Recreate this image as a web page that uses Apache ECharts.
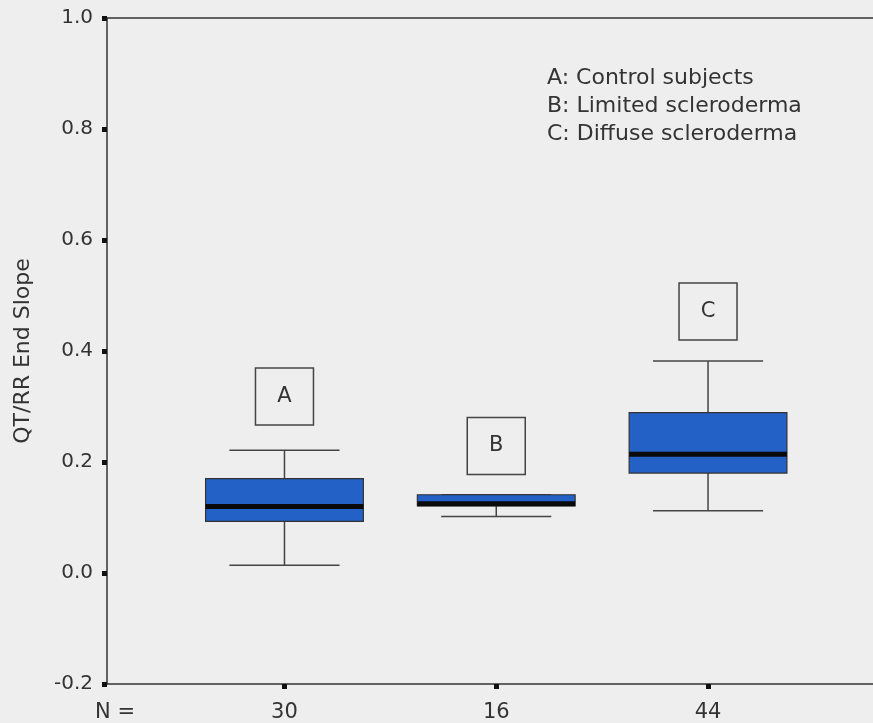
<!DOCTYPE html>
<html>
<head>
<meta charset="utf-8">
<script src="https://cdn.jsdelivr.net/npm/echarts@6/dist/echarts.min.js"></script>
<style>
html,body{margin:0;padding:0;background:#eeeeee;}
#chart{width:873px;height:723px;}
</style>
</head>
<body>
<div id="chart"></div>
<script>
// Group positions and counts
var groupX = [1, 2, 3];
var groupLetters = ['A', 'B', 'C'];
var groupN = ['30', '16', '44'];
// Box statistics: [min, Q1, median, Q3, max]
var boxA = [0.014, 0.093, 0.120, 0.170, 0.221];
var boxB = [0.102, 0.121, 0.125, 0.141, 0.141];
var boxC = [0.112, 0.180, 0.214, 0.289, 0.382];
// Label box centres (value units)
var labelY = [0.318, 0.229, 0.471];
// Legend text
var legendLines = ['A: Control subjects', 'B: Limited scleroderma', 'C: Diffuse scleroderma'];
// Axis ticks
var yTicks = [-0.2, 0.0, 0.2, 0.4, 0.6, 0.8, 1.0];
var xLabelValues = [0.2, 1, 2, 3];
var xLabelTexts = ['N =', groupN[0], groupN[1], groupN[2]];

var FONT = 'DejaVu Sans';
var TXT = '#333';

var boxes = [boxA, boxB, boxC];
var boxData = boxes.map(function (b, i) { return [groupX[i]].concat(b); });
var labelData = groupLetters.map(function (l, i) { return [groupX[i], labelY[i], l]; });

var chart = echarts.init(document.getElementById('chart'));

function renderBox(params, api) {
  var x = api.value(0);
  var pMin = api.coord([x, api.value(1)]);
  var pQ1 = api.coord([x, api.value(2)]);
  var pMed = api.coord([x, api.value(3)]);
  var pQ3 = api.coord([x, api.value(4)]);
  var pMax = api.coord([x, api.value(5)]);
  var bw = api.size([0.745, 0])[0];
  var cw = api.size([0.52, 0])[0];
  var cx = pMed[0];
  var ls = { stroke: '#444', lineWidth: 1.5, fill: null };
  return {
    type: 'group',
    children: [
      { type: 'line', shape: { x1: cx, y1: pQ3[1], x2: cx, y2: pMax[1] }, style: ls },
      { type: 'line', shape: { x1: cx, y1: pQ1[1], x2: cx, y2: pMin[1] }, style: ls },
      { type: 'line', shape: { x1: cx - cw / 2, y1: pMax[1], x2: cx + cw / 2, y2: pMax[1] }, style: ls },
      { type: 'line', shape: { x1: cx - cw / 2, y1: pMin[1], x2: cx + cw / 2, y2: pMin[1] }, style: ls },
      { type: 'rect', shape: { x: cx - bw / 2, y: pQ3[1], width: bw, height: pQ1[1] - pQ3[1] },
        style: { fill: '#2461c6', stroke: '#333', lineWidth: 1.2 } },
      { type: 'line', shape: { x1: cx - bw / 2, y1: pMed[1], x2: cx + bw / 2, y2: pMed[1] },
        style: { stroke: '#0a0a0a', lineWidth: 5 } }
    ]
  };
}

function renderLabel(params, api) {
  var p = api.coord([api.value(0), api.value(1)]);
  var w = 58, h = 57;
  return {
    type: 'group',
    children: [
      { type: 'rect', shape: { x: p[0] - w / 2, y: p[1] - h / 2, width: w, height: h },
        style: { fill: 'rgba(0,0,0,0)', stroke: '#444', lineWidth: 1.5 } },
      { type: 'text', x: p[0], y: p[1],
        style: { text: api.value(2), fill: TXT, font: '21px "' + FONT + '"', align: 'center', verticalAlign: 'middle' } }
    ]
  };
}

chart.setOption({
  backgroundColor: '#eeeeee',
  animation: false,
  title: {
    text: legendLines.join('\n'),
    left: 542, top: 59,
    textStyle: { fontFamily: FONT, fontSize: 22, fontWeight: 'normal', color: TXT, lineHeight: 28 }
  },
  grid: { left: 107, top: 18, right: 0, bottom: 34 },
  xAxis: [{
    type: 'value', min: 0.162, max: 3.779,
    splitLine: { show: false },
    axisLine: { show: true, onZero: false, lineStyle: { color: '#333', width: 1.5 } },
    axisTick: { show: true, customValues: groupX, length: 5, lineStyle: { color: '#111', width: 5 } },
    axisLabel: {
      customValues: xLabelValues,
      formatter: function (v) {
        for (var i = 0; i < xLabelValues.length; i++) if (Math.abs(xLabelValues[i] - v) < 1e-6) return xLabelTexts[i];
        return '';
      },
      margin: 18, fontFamily: FONT, fontSize: 21, color: TXT
    }
  }, {
    type: 'value', position: 'top', min: 0.162, max: 3.779,
    splitLine: { show: false },
    axisLine: { show: true, onZero: false, lineStyle: { color: '#333', width: 1.5 } },
    axisTick: { show: false }, axisLabel: { show: false }
  }],
  yAxis: {
    type: 'value', min: -0.2, max: 1.0, interval: 0.2,
    name: 'QT/RR End Slope', nameLocation: 'middle', nameGap: 73,
    nameTextStyle: { fontFamily: FONT, fontSize: 22, color: TXT },
    splitLine: { show: false },
    axisLine: { show: true, onZero: false, lineStyle: { color: '#333', width: 1.5 } },
    axisTick: { show: true, length: 5, lineStyle: { color: '#111', width: 5 } },
    axisLabel: { margin: 14, fontFamily: FONT, fontSize: 20, color: TXT,
      formatter: function (v) { return v.toFixed(1); } }
  },
  series: [
    { type: 'custom', renderItem: renderBox, data: boxData, encode: { x: 0, y: [1, 2, 3, 4, 5] } },
    { type: 'custom', renderItem: renderLabel, data: labelData, encode: { x: 0, y: 1 } }
  ]
});
</script>
</body>
</html>
